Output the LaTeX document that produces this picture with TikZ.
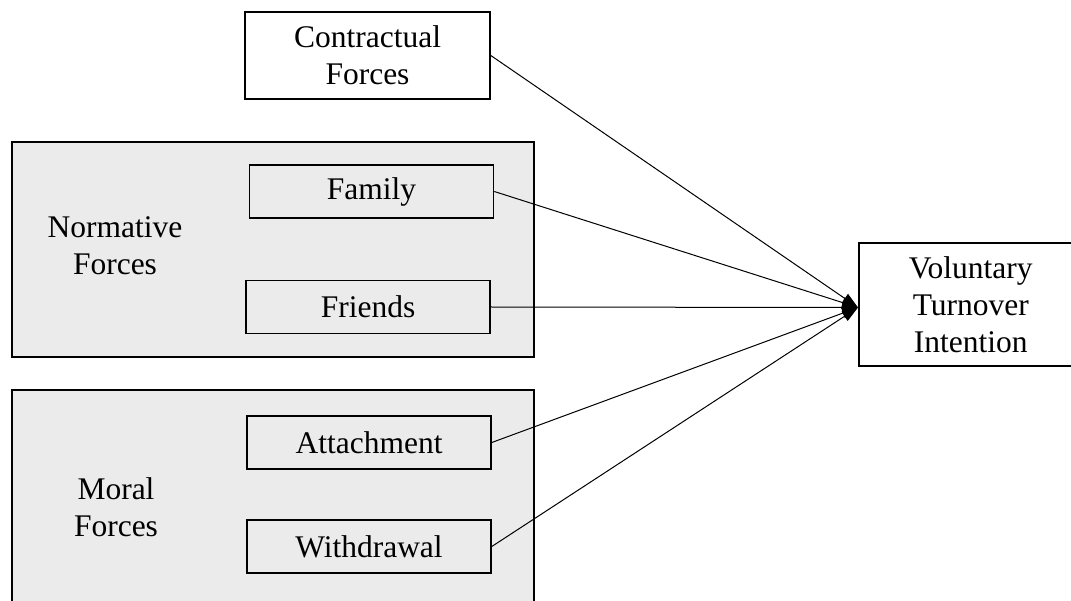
\documentclass[tikz,border=0pt]{standalone}
\usepackage{fontspec}
\setmainfont{Liberation Serif}
\usetikzlibrary{arrows.meta}
\definecolor{groupfill}{RGB}{235,235,235}
\begin{document}
\begin{tikzpicture}[x=1pt,y=-1pt,
  every node/.style={font=\fontsize{31.5}{37}\selectfont, align=center, inner sep=0pt},
  groupbox/.style={draw, line width=2pt, fill=groupfill},
  itembox/.style={draw, line width=1.6pt, minimum width=244pt, minimum height=53pt},
  mainbox/.style={draw, line width=1.6pt, fill=white},
  link/.style={line width=1pt, -{Triangle[length=16pt,width=11pt]}}]
\useasboundingbox (0,0) rectangle (1071,601);
\clip (0,0) rectangle (1071,601);
\fill[white] (0,0) rectangle (1071,601);

% grouping panels
\node[groupbox, minimum width=522pt, minimum height=215pt] (normative) at (273,249.5) {};
\node[groupbox, minimum width=522pt, minimum height=250pt] (moral) at (273,515) {};
\node (normlabel) at (115,246) {Normative\\Forces};
\node (morallabel) at (116,507) {Moral\\Forces};

% single factors
\node[mainbox, minimum width=245pt, minimum height=87pt] (contract) at (367.5,55.5) {Contractual\\Forces};
\node[itembox] (family) at (371.5,191.5) {Family};
\node[itembox] (friends) at (368,307) {Friends};
\node[itembox] (attach) at (369,442.5) {Attachment};
\node[itembox] (withdraw) at (369,546.5) {Withdrawal};

% outcome
\node[mainbox, anchor=west, minimum width=224pt, minimum height=123pt] (intent) at (858,304.5) {Voluntary\\Turnover\\Intention};
\coordinate (tip) at (858,307.5);

% paths into the outcome
\draw[link] (contract.east) -- (tip);
\draw[link] (family.east) -- (tip);
\draw[link] (friends.east) -- (tip);
\draw[link] (attach.east) -- (tip);
\draw[link] (withdraw.east) -- (tip);
\end{tikzpicture}
\end{document}
